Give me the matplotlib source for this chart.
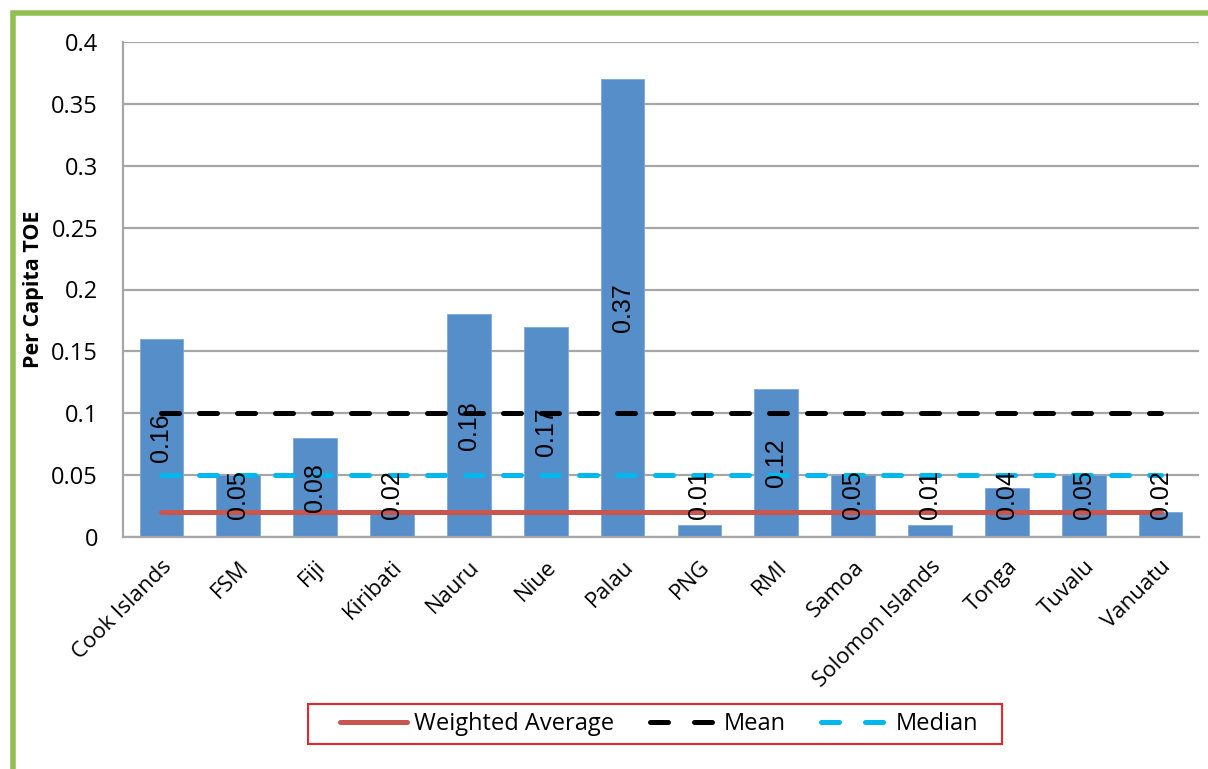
import matplotlib
matplotlib.use("Agg")
import matplotlib.pyplot as plt
from matplotlib.patches import Rectangle
from matplotlib.lines import Line2D
import numpy as np

countries = ["Cook Islands", "FSM", "Fiji", "Kiribati", "Nauru", "Niue", "Palau",
             "PNG", "RMI", "Samoa", "Solomon Islands", "Tonga", "Tuvalu", "Vanuatu"]
per_capita = [0.16, 0.05, 0.08, 0.02, 0.18, 0.17, 0.37, 0.01, 0.12, 0.05, 0.01, 0.04, 0.05, 0.02]
weighted_average = [0.02] * 14
mean_vals = [0.10] * 14
median_vals = [0.05] * 14
yticks = [0, 0.05, 0.1, 0.15, 0.2, 0.25, 0.3, 0.35, 0.4]
ytick_labels = ["0", "0.05", "0.1", "0.15", "0.2", "0.25", "0.3", "0.35", "0.4"]

W, H = 1208, 769
dpi = 100
fig = plt.figure(figsize=(W / dpi, H / dpi), dpi=dpi)
fig.patch.set_facecolor("white")

left, right, top, bottom = 123, 1199, 42, 537
ax = fig.add_axes([left / W, 1 - bottom / H, (right - left) / W, (bottom - top) / H])

x = np.arange(len(countries))
bar_color = "#558EC9"
ax.bar(x, per_capita, width=0.57, color=bar_color, edgecolor="#7FA9D8", linewidth=0.6, zorder=2)

lw_px = 5
lw = lw_px * 72 / dpi
ax.plot(x, weighted_average, color="#C8564F", lw=lw, solid_capstyle="round", zorder=3)
dash = (3.6, 4.0)
ax.plot(x, mean_vals, color="black", lw=lw, dashes=dash, dash_capstyle="round", zorder=3)
ax.plot(x, median_vals, color="#00B8EE", lw=lw, dashes=dash, dash_capstyle="round", zorder=3)

for xi, v in zip(x, per_capita):
    yc = max(v / 2, 0.034)
    ax.text(xi, yc, f"{v:.2f}", rotation=90, ha="center", va="center",
            fontsize=18, family="Liberation Sans", color="black", zorder=4)

ax.set_xlim(-0.5, len(countries) - 0.5)
ax.set_ylim(0, 0.4)
ax.set_yticks(yticks)
ax.set_yticklabels(ytick_labels, family="Open Sans", fontsize=17)
ax.set_xticks(x)
ax.set_xticklabels(countries, rotation=45, ha="right", rotation_mode="anchor",
                   family="Open Sans", fontsize=16)
ax.tick_params(axis="both", length=0)
ax.tick_params(axis="y", pad=18)
ax.tick_params(axis="x", pad=14)
ax.yaxis.grid(True, color="#A6A6A6", lw=1.6, zorder=0)
ax.set_axisbelow(True)
for s in ["top", "right"]:
    ax.spines[s].set_visible(False)
for s in ["left", "bottom"]:
    ax.spines[s].set_color("#A6A6A6")
    ax.spines[s].set_linewidth(1.6)

fig.text(34 / W, 1 - 289 / H, "Per Capita TOE", rotation=90, ha="center", va="center",
         family="Open Sans", fontweight="bold", fontsize=15.5)

leg_dash = (3.6, 5.2)
handles = [
    Line2D([], [], color="#C8564F", lw=lw, solid_capstyle="round"),
    Line2D([], [], color="black", lw=lw, dashes=leg_dash, dash_capstyle="round"),
    Line2D([], [], color="#00B8EE", lw=lw, dashes=leg_dash, dash_capstyle="round"),
]
leg = fig.legend(handles, ["Weighted Average", "Mean", "Median"], ncol=3,
                 loc="center", bbox_to_anchor=(659 / W, 1 - 724 / H),
                 prop={"family": "Open Sans", "size": 17}, frameon=False,
                 handlelength=2.85, columnspacing=1.5, handletextpad=0.3,
                 borderpad=0.25, borderaxespad=0)

# legend frame
fig.patches.append(Rectangle((308 / W, 1 - 744 / H), (1002 - 308) / W, 40 / H,
                             transform=fig.transFigure, fill=False,
                             edgecolor="#E8262C", lw=1.5, zorder=5))

# green border (top and left)
fig.patches.append(Rectangle((12.5 / W, -0.2), 1.5, 1 - 12.5 / H + 0.2,
                             transform=fig.transFigure, fill=False,
                             edgecolor="#92C050", lw=5.5 * 72 / dpi, zorder=10))

fig.savefig("out.png", dpi=dpi)
